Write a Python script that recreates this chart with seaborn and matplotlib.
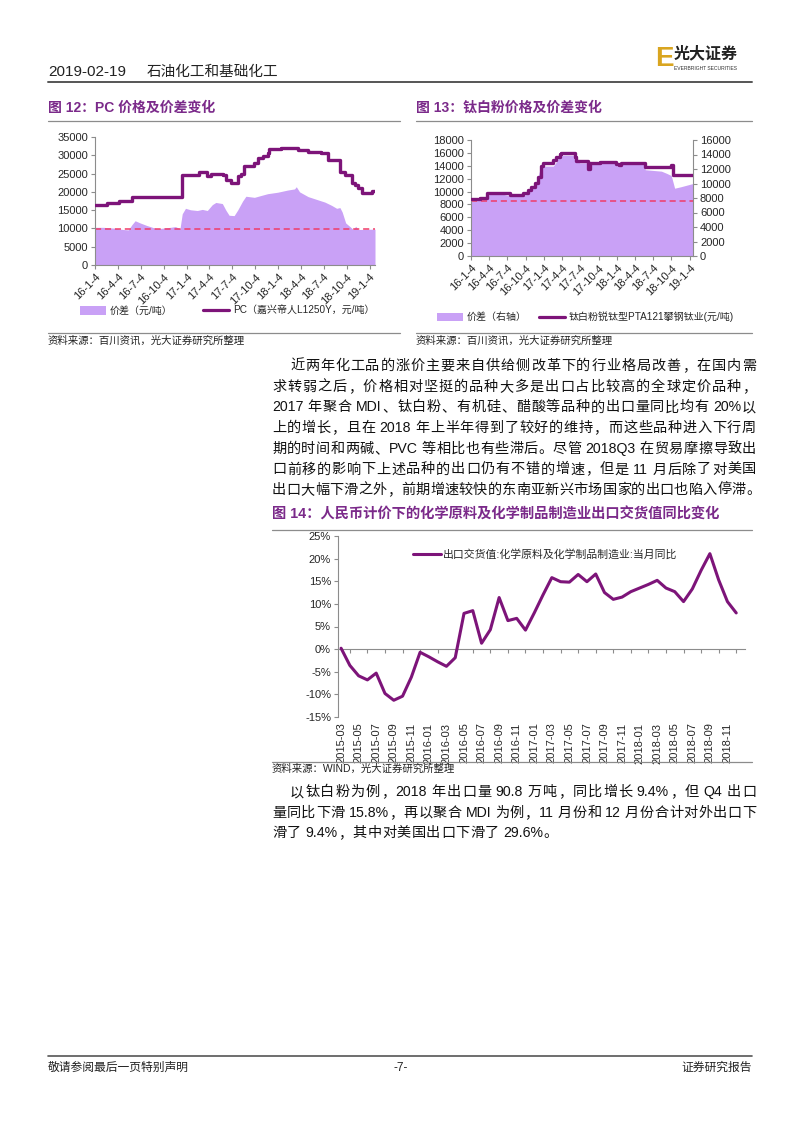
import re
import numpy as np
import pandas as pd
import matplotlib
matplotlib.use('Agg')
import matplotlib.pyplot as plt
import seaborn as sns
from matplotlib.lines import Line2D
from matplotlib.patches import Patch

W, H = 802, 1133
sns.set_theme(style='white')
FONT = ['Liberation Sans', 'Noto Sans CJK SC']
plt.rcParams['font.family'] = FONT
plt.rcParams['axes.unicode_minus'] = False

LINE = '#7d1479'
AREA = '#c9a1f6'
DASH = '#f03c68'
TITLE = '#7b2a8a'
GRAY = '#8c8c8c'

# ---------------- data: chart 12 (PC) ----------------
pc_dates = ['2016-01-04', '2016-02-20', '2016-04-07', '2016-05-30', '2016-12-16', '2017-02-22',
            '2017-03-27', '2017-04-10', '2017-05-27', '2017-06-09', '2017-06-29', '2017-07-26',
            '2017-08-10', '2017-08-21', '2017-10-01', '2017-10-14', '2017-11-05', '2017-11-23',
            '2017-11-30', '2018-01-16', '2018-03-24', '2018-05-03', '2018-06-25', '2018-07-22',
            '2018-09-07', '2018-09-27', '2018-10-24', '2018-11-05', '2018-11-20', '2018-12-03',
            '2019-01-12', '2019-01-25']
pc_price = [16500, 17000, 17500, 18500, 24500, 25500,
            24200, 25000, 24700, 23300, 22300, 24200,
            25000, 27000, 27800, 29200, 29800, 30500,
            31600, 31900, 31400, 31000, 30500, 28800,
            25500, 24500, 22300, 21800, 21000, 19600,
            20100, 20100]
pc_spread_dates = ['2016-01-04', '2016-02-06', '2016-03-17', '2016-04-26', '2016-05-16', '2016-05-30',
                   '2016-06-12', '2016-07-02', '2016-07-29', '2016-09-07', '2016-10-31', '2016-11-20',
                   '2016-12-08', '2016-12-17', '2016-12-30', '2017-01-19', '2017-02-15', '2017-03-07',
                   '2017-03-27', '2017-04-16', '2017-04-30', '2017-05-26', '2017-06-09', '2017-06-22',
                   '2017-07-12', '2017-07-26', '2017-08-15', '2017-08-28', '2017-10-01', '2017-10-27',
                   '2017-11-23', '2018-01-02', '2018-02-11', '2018-03-10', '2018-03-17', '2018-03-30',
                   '2018-05-03', '2018-06-12', '2018-07-09', '2018-08-05', '2018-08-25', '2018-09-07',
                   '2018-09-16', '2018-09-30', '2018-10-17', '2018-10-30', '2018-11-09', '2018-11-19',
                   '2019-01-25']
pc_spread = [10300, 10300, 10100, 9700, 9600, 11000,
             12100, 11500, 10800, 9900, 10300, 10500,
             9900, 14000, 15500, 15100, 14900, 15200,
             14900, 16500, 17100, 16800, 15000, 13600,
             13500, 15000, 17500, 18800, 18500, 19000,
             19500, 19900, 20500, 20800, 21400, 20000,
             18700, 17800, 17200, 16300, 15500, 15700,
             14500, 11500, 10500, 9700, 10600, 9700,
             9800]
pc_ref = 9800

# ---------------- data: chart 13 (TiO2) ----------------
tio2_dates = ['2016-01-04', '2016-02-18', '2016-03-22', '2016-06-14', '2016-07-17', '2016-09-22',
              '2016-10-17', '2016-11-02', '2016-11-19', '2016-12-06', '2016-12-22', '2016-12-31',
              '2017-02-10', '2017-02-19', '2017-03-07', '2017-03-24', '2017-04-01', '2017-06-07',
              '2017-06-15', '2017-08-13', '2017-08-21', '2017-10-10', '2018-01-01', '2018-01-15',
              '2018-01-26', '2018-05-23', '2018-10-03', '2018-10-12', '2019-01-20']
tio2_price = [8800, 9050, 9830, 9700, 9470, 9830,
              10240, 10760, 11300, 12300, 13900, 14400,
              14500, 14900, 15400, 15900, 16050, 15400,
              14800, 13450, 14450, 14600, 14350, 14150,
              14500, 13750, 14100, 12500, 12500]
tio2_spread_dates = ['2016-01-04', '2016-02-18', '2016-03-22', '2016-04-08', '2016-06-14', '2016-07-17',
                     '2016-09-22', '2016-10-17', '2016-11-02', '2016-11-28', '2016-12-14', '2016-12-31',
                     '2017-02-19', '2017-03-07', '2017-03-24', '2017-06-07', '2017-06-15', '2017-07-02',
                     '2017-08-13', '2017-08-18', '2017-08-29', '2018-01-01', '2018-01-15', '2018-01-26',
                     '2018-05-23', '2018-05-25', '2018-08-15', '2018-09-10', '2018-10-03', '2018-10-20',
                     '2018-11-20', '2019-01-20']
tio2_spread = [7500, 7700, 8300, 8500, 8500, 8300,
               8300, 8600, 9200, 10250, 11900, 12400,
               12400, 13000, 13900, 13900, 13150, 12850,
               12850, 12300, 12800, 12800, 12300, 12800,
               12800, 11900, 11700, 11400, 11100, 9350,
               9550, 10000]
tio2_ref = 8500

quarter_ticks = ['2016-01-04', '2016-04-04', '2016-07-04', '2016-10-04', '2017-01-04', '2017-04-04',
                 '2017-07-04', '2017-10-04', '2018-01-04', '2018-04-04', '2018-07-04', '2018-10-04',
                 '2019-01-04']
quarter_labels = ['16-1-4', '16-4-4', '16-7-4', '16-10-4', '17-1-4', '17-4-4', '17-7-4', '17-10-4',
                  '18-1-4', '18-4-4', '18-7-4', '18-10-4', '19-1-4']

# ---------------- data: chart 14 ----------------
export_yoy = [0.2, -3.6, -5.9, -6.8, -5.3, -9.8, -11.3, -10.4, -6.2, -0.7,
              -1.7, -2.8, -3.8, -1.9, 7.9, 8.5, 1.3, 4.3, 11.4, 6.3, 6.8, 4.2,
              8.0, 12.0, 15.8, 14.9, 14.8, 16.5, 14.9, 16.6, 12.5, 11.0, 11.5, 12.7,
              13.5, 14.3, 15.2, 13.5, 12.7, 10.5, 13.3, 17.4, 21.1, 15.3, 10.5, 8.0]
month_labels = ['2015-03', '2015-05', '2015-07', '2015-09', '2015-11', '2016-01', '2016-03',
                '2016-05', '2016-07', '2016-09', '2016-11', '2017-01', '2017-03', '2017-05',
                '2017-07', '2017-09', '2017-11', '2018-01', '2018-03', '2018-05', '2018-07',
                '2018-09', '2018-11']
pct_ticks = [-15, -10, -5, 0, 5, 10, 15, 20, 25]

# ---------------- page text ----------------
para1 = ["近两年化工品的涨价主要来自供给侧改革下的行业格局改善，在国内需",
         "求转弱之后，价格相对坚挺的品种大多是出口占比较高的全球定价品种，",
         "2017 年聚合 MDI、钛白粉、有机硅、醋酸等品种的出口量同比均有 20%以",
         "上的增长，且在 2018 年上半年得到了较好的维持，而这些品种进入下行周",
         "期的时间和两碱、PVC 等相比也有些滞后。尽管 2018Q3 在贸易摩擦导致出",
         "口前移的影响下上述品种的出口仍有不错的增速，但是 11 月后除了对美国",
         "出口大幅下滑之外，前期增速较快的东南亚新兴市场国家的出口也陷入停滞。"]
para2 = ["以钛白粉为例，2018 年出口量 90.8 万吨，同比增长 9.4%，但 Q4 出口",
         "量同比下滑 15.8%，再以聚合 MDI 为例，11 月份和 12 月份合计对外出口下",
         "滑了 9.4%，其中对美国出口下滑了 29.6%。"]

fig = plt.figure(figsize=(W / 100, H / 100), dpi=100)
fig.patch.set_facecolor('white')
renderer = fig.canvas.get_renderer()


def fx(x):
    return x / W


def fy(y):
    return 1 - y / H


def px_axes(l, t, r, b):
    return fig.add_axes([fx(l), fy(b), (r - l) / W, (b - t) / H])


def ftext(x, y, s, **kw):
    kw.setdefault('va', 'center')
    kw.setdefault('ha', 'left')
    return fig.text(fx(x), fy(y), s, **kw)


def justified(x0, x1, y, s, justify=True, space=3.5, **kw):
    tokens = re.findall(r'[A-Za-z0-9.%]+| |.', s)
    arts, widths = [], []
    for t in tokens:
        if t == ' ':
            arts.append(None)
            widths.append(space)
            continue
        a = ftext(x0, y, t, **kw)
        widths.append(a.get_window_extent(renderer).width)
        arts.append(a)
    n_gaps = sum(1 for a in arts if a is not None) - 1
    total = sum(widths)
    gap = (x1 - x0 - total) / max(n_gaps, 1) if justify else 0.6
    x = x0
    for a, w in zip(arts, widths):
        if a is None:
            x += w
            continue
        a.set_x(fx(x))
        x += w + gap


def hrule(x0, x1, y, color=GRAY, lw=0.9):
    fig.add_artist(Line2D([fx(x0), fx(x1)], [fy(y), fy(y)], transform=fig.transFigure,
                          color=color, lw=lw))


def style_axes(ax, spines=('left', 'bottom')):
    for s in ['left', 'right', 'top', 'bottom']:
        ax.spines[s].set_visible(s in spines)
        ax.spines[s].set_color(GRAY)
        ax.spines[s].set_linewidth(0.8)
    ax.tick_params(axis='both', which='both', direction='out', length=3, width=0.8,
                   color=GRAY, labelsize=8, pad=2, bottom=('bottom' in spines), left=('left' in spines))
    ax.set_facecolor('none')
    ax.grid(False)


# ---------------- header ----------------
ftext(48, 72, "2019-02-19", fontsize=11, color='#222222')
ftext(147, 72, "石油化工和基础化工", fontsize=10.5, color='#222222')
hrule(48, 752, 82, color='#555555', lw=1.4)
ftext(655, 59, "E", fontsize=20, fontweight='bold', color='#d9a520')
ftext(674, 54, "光大证券", fontsize=11.5, fontweight='bold', color='#222222')
ftext(674, 68, "EVERBRIGHT SECURITIES", fontsize=3.6, color='#333333')

# ---------------- chart 12 ----------------
ftext(48, 108, "图 12：PC 价格及价差变化", fontsize=10, fontweight='bold', color=TITLE)
hrule(48, 400, 121)
ax1 = px_axes(95, 137, 375, 265)
d_sp = pd.to_datetime(pc_spread_dates)
ax1.fill_between(d_sp, 0, pc_spread, color=AREA, lw=0, zorder=1)
ax1.axhline(pc_ref, color=DASH, lw=1.1, ls=(0, (4, 2.5)), zorder=2)
sns.lineplot(x=pd.to_datetime(pc_dates), y=pc_price, ax=ax1, color=LINE, lw=2.4,
             drawstyle='steps-post', zorder=3)
ax1.set_ylim(0, 35000)
ax1.set_yticks(range(0, 35001, 5000))
ax1.set_xlim(pd.Timestamp('2016-01-04'), pd.Timestamp('2019-01-25'))
ax1.set_xticks(pd.to_datetime(quarter_ticks))
ax1.set_xticklabels(quarter_labels, rotation=45, ha='right', rotation_mode='anchor')
ax1.set_xlabel('')
ax1.set_ylabel('')
style_axes(ax1)
fig.legend(handles=[Patch(facecolor=AREA, edgecolor='none'), Line2D([], [], color=LINE, lw=2.3)],
           labels=['价差（元/吨）', 'PC（嘉兴帝人L1250Y，元/吨）'], ncol=2, loc='center left',
           bbox_to_anchor=(fx(80), fy(311)), frameon=False, fontsize=7.2, handlelength=2.6,
           handleheight=0.9, columnspacing=3.0, borderpad=0, borderaxespad=0, handletextpad=0.4)
hrule(48, 400, 333)
ftext(48, 341, "资料来源：百川资讯，光大证券研究所整理", fontsize=7.5, color='#222222')

# ---------------- chart 13 ----------------
ftext(416, 108, "图 13：钛白粉价格及价差变化", fontsize=10, fontweight='bold', color=TITLE)
hrule(416, 752, 121)
ax2 = px_axes(471, 140, 693, 256)
ax2r = ax2.twinx()
ax2r.fill_between(pd.to_datetime(tio2_spread_dates), 0, tio2_spread, color=AREA, lw=0)
ax2r.set_ylim(0, 16000)
ax2r.set_yticks(range(0, 16001, 2000))
ax2.set_zorder(ax2r.get_zorder() + 1)
ax2.patch.set_visible(False)
ax2.axhline(tio2_ref, color=DASH, lw=1.1, ls=(0, (4, 2.5)), zorder=2)
sns.lineplot(x=pd.to_datetime(tio2_dates), y=tio2_price, ax=ax2, color=LINE, lw=2.4,
             drawstyle='steps-post', zorder=3)
ax2.set_ylim(0, 18000)
ax2.set_yticks(range(0, 18001, 2000))
ax2.set_xlim(pd.Timestamp('2016-01-04'), pd.Timestamp('2019-01-20'))
ax2.set_xticks(pd.to_datetime(quarter_ticks))
ax2.set_xticklabels(quarter_labels, rotation=45, ha='right', rotation_mode='anchor')
ax2.set_xlabel('')
ax2.set_ylabel('')
style_axes(ax2)
style_axes(ax2r, spines=('right',))
ax2r.tick_params(axis='y', right=True, labelright=True, left=False, labelleft=False)
ax2r.spines['left'].set_visible(False)
ax2r.spines['bottom'].set_visible(False)
fig.legend(handles=[Patch(facecolor=AREA, edgecolor='none'), Line2D([], [], color=LINE, lw=2.3)],
           labels=['价差（右轴）', '钛白粉锐钛型PTA121攀钢钛业(元/吨)'], ncol=2, loc='center left',
           bbox_to_anchor=(fx(437), fy(317)), frameon=False, fontsize=7.2, handlelength=2.6,
           handleheight=0.9, columnspacing=1.2, borderpad=0, borderaxespad=0, handletextpad=0.4)
hrule(416, 752, 333)
ftext(416, 341, "资料来源：百川资讯，光大证券研究所整理", fontsize=7.5, color='#222222')

# ---------------- paragraph 1 ----------------
BODY = dict(fontsize=10.2, color='#111111')
y0 = 366
for i, line in enumerate(para1):
    last = i == len(para1) - 1
    justified(290 if i == 0 else 272, 756 if not last else 760, y0 + i * 20.7, line,
              justify=True, **BODY)

# ---------------- chart 14 ----------------
ftext(272, 515, "图 14：人民币计价下的化学原料及化学制品制造业出口交货值同比变化",
      fontsize=10.3, fontweight='bold', color=TITLE)
hrule(272, 752, 530)
ax3 = px_axes(338, 536, 745, 717)
idx = np.arange(len(export_yoy))
sns.lineplot(x=idx, y=export_yoy, ax=ax3, color=LINE, lw=2.2, label='出口交货值:化学原料及化学制品制造业:当月同比')
ax3.set_xlim(-0.35, 46)
ax3.set_ylim(-15, 25)
ax3.set_yticks(pct_ticks)
ax3.set_yticklabels([f"{v}%" for v in pct_ticks])
ax3.set_xticks(idx[::2])
ax3.set_xticklabels(month_labels, rotation=90, ha='center', va='top')
ax3.set_xlabel('')
ax3.set_ylabel('')
style_axes(ax3, spines=('left',))
ax3.tick_params(axis='x', bottom=False, length=0, pad=4)
zero = ax3.secondary_xaxis(15 / 40)
zero.set_xticks(idx[::2] + 1)
zero.set_xticklabels([])
zero.spines['bottom'].set_color(GRAY)
zero.spines['bottom'].set_linewidth(0.8)
zero.tick_params(axis='x', direction='out', length=3, color=GRAY, width=0.8)
ax3.legend(loc='center left', bbox_to_anchor=(fx(413), fy(554)), bbox_transform=fig.transFigure,
           frameon=False, fontsize=7.8, handlelength=2.6, borderpad=0, borderaxespad=0,
           handletextpad=0.2)
hrule(272, 752, 762)
ftext(272, 769, "资料来源：WIND，光大证券研究所整理", fontsize=7.5, color='#222222')

# ---------------- paragraph 2 ----------------
y0 = 792
for i, line in enumerate(para2):
    last = i == len(para2) - 1
    justified(290 if i == 0 else 272, 756, y0 + i * 20.7, line, justify=not last, **BODY)

# ---------------- footer ----------------
hrule(48, 752, 1056, color='#555555', lw=1.2)
ftext(48, 1068, "敬请参阅最后一页特别声明", fontsize=8.5, color='#222222')
ftext(401, 1068, "-7-", fontsize=8.5, color='#222222', ha='center')
ftext(752, 1068, "证券研究报告", fontsize=8.5, color='#222222', ha='right')

fig.savefig('out.png', dpi=100, facecolor='white')
